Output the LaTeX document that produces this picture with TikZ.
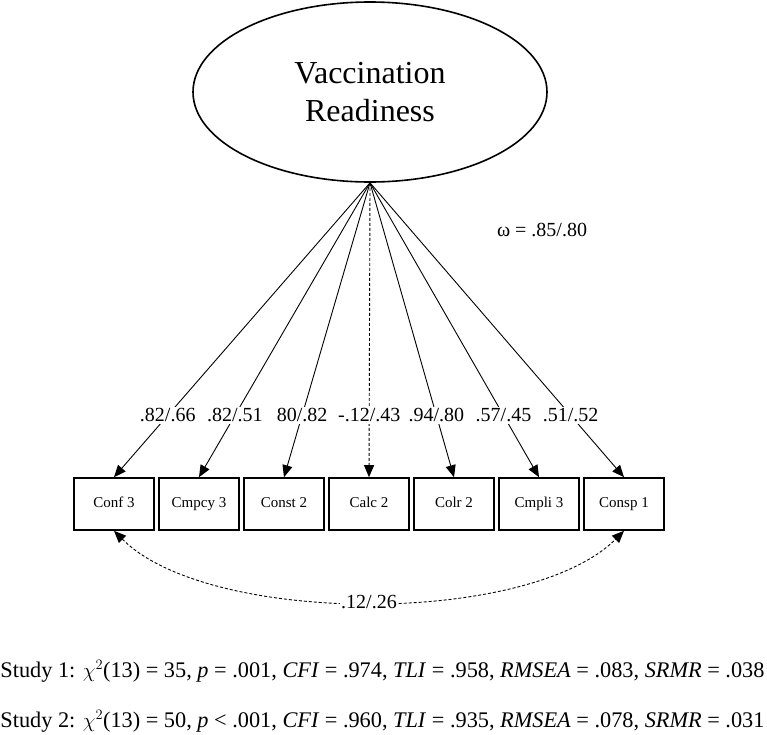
\documentclass[tikz,border=0pt]{standalone}
\usepackage{fontspec}
\setmainfont{Liberation Serif}
\usetikzlibrary{arrows.meta,shapes.geometric}

\begin{document}
\begin{tikzpicture}[x=1pt,y=-1pt,->,>={Triangle[length=12pt,width=10pt]},
                    node distance=85pt,line width=0.9pt]
  \tikzstyle{indicator}=[draw=black,line width=1.6pt,minimum width=80pt,
                         minimum height=52pt,inner sep=0pt,text height=10.5pt,
                         text depth=3.5pt,font=\fontsize{15}{18}\selectfont]
  \tikzstyle{loading}=[fill=white,inner sep=1.5pt,font=\fontsize{20}{23}\selectfont]
  \tikzstyle{fitline}=[anchor=base west,inner sep=0pt,font=\fontsize{22.3}{26}\selectfont]

  \useasboundingbox (0,0) rectangle (767,734);

  \node[ellipse,draw,line width=1.6pt,minimum width=354pt,minimum height=180pt,
        align=center,font=\fontsize{32}{38}\selectfont] (VR) at (370,92)
        {Vaccination\\Readiness};
  \node[font=\fontsize{20}{23}\selectfont] (omega) at (542,230) {ω = .85/.80};

  \node[indicator] (C1) at (114,504) {Conf 3};
  \node[indicator] (C2) [right of=C1] {Cmpcy 3};
  \node[indicator] (C3) [right of=C2] {Const 2};
  \node[indicator] (C4) [right of=C3] {Calc 2};
  \node[indicator] (C5) [right of=C4] {Colr 2};
  \node[indicator] (C6) [right of=C5] {Cmpli 3};
  \node[indicator] (C7) [right of=C6] {Consp 1};

  \path (VR.south) edge (C1.north)
                   edge (C2.north)
                   edge (C3.north)
                   edge [dash pattern=on 3pt off 2pt] (C4.north)
                   edge (C5.north)
                   edge (C6.north)
                   edge (C7.north);

  % loadings on top of the lines
  \path[-] (VR.south) -- (C1.north) node [loading,pos=0.79] {.82/.66}
           (VR.south) -- (C2.north) node [loading,pos=0.79] {.82/.51}
           (VR.south) -- (C3.north) node [loading,pos=0.79] {80/.82}
           (VR.south) -- (C4.north) node [loading,pos=0.79] {-.12/.43}
           (VR.south) -- (C5.north) node [loading,pos=0.79] {.94/.80}
           (VR.south) -- (C6.north) node [loading,pos=0.79] {.57/.45}
           (VR.south) -- (C7.north) node [loading,pos=0.79] {.51/.52};

  \draw[<->,dash pattern=on 3pt off 2pt] (C1.south) .. controls +(95,95) and +(-95,95) ..
        (C7.south) node [loading,midway] {.12/.26};

  \node[fitline] (s1) at (0,677) {Study 1: $\chi^2$(13) = 35, \textit{p} = .001, \textit{CFI} = .974, \textit{TLI} = .958, \textit{RMSEA} = .083, \textit{SRMR} = .038};
  \node[fitline] (s2) at (0,727) {Study 2: $\chi^2$(13) = 50, \textit{p} {\textless} .001, \textit{CFI} = .960, \textit{TLI} = .935, \textit{RMSEA} = .078, \textit{SRMR} = .031};
\end{tikzpicture}
\end{document}
